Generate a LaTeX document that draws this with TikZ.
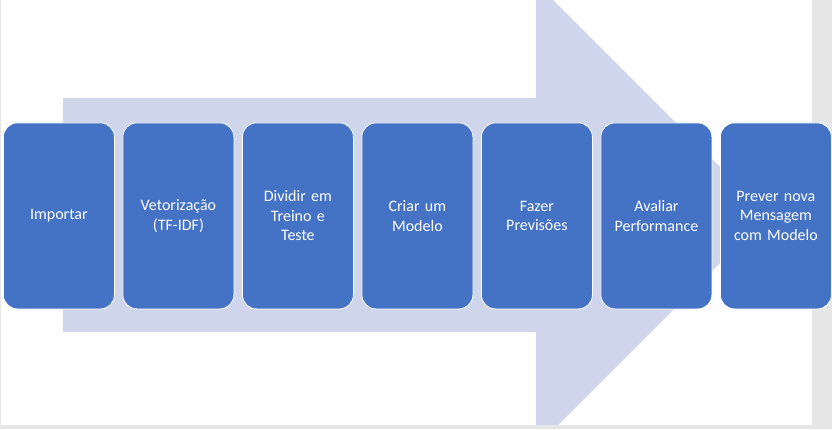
\documentclass[tikz,border=0pt]{standalone}
\usepackage{fontspec}
\setmainfont{Carlito}
\definecolor{bggray}{HTML}{E6E6E6}
\definecolor{arrowc}{HTML}{CFD5EA}
\definecolor{boxc}{HTML}{4472C4}
\begin{document}
\begin{tikzpicture}[x=1pt,y=-1pt,
  stepbox/.style={rectangle, rounded corners=14pt, fill=boxc, draw=white, line width=0.8pt,
    minimum width=111pt, minimum height=186pt, inner sep=0pt, align=center, text width=105pt,
    text=white, font=\fontsize{16}{19.5}\selectfont, anchor=north west}]
\useasboundingbox (0,0) rectangle (832,429);
\fill[bggray] (0,0) rectangle (832,429);
\fill[white] (1,0) rectangle (812,424.5);
\begin{scope}
\clip (1,0) rectangle (812,424.5);
\fill[arrowc] (63,98) -- (536,98) -- (536,-17) -- (768,215) -- (536,447) -- (536,332) -- (63,332) -- cycle;
\end{scope}
\node[stepbox] (s1) at (3,122.5) {Importar};
\node[stepbox] (s2) at (122.5,122.5) {Vetorização\\(TF-IDF)};
\node[stepbox] (s3) at (242,122.5) {Dividir em\\Treino e\\Teste};
\node[stepbox] (s4) at (361.5,122.5) {Criar um\\Modelo};
\node[stepbox] (s5) at (481,122.5) {Fazer\\Previsões};
\node[stepbox] (s6) at (600.5,122.5) {Avaliar\\Performance};
\node[stepbox] (s7) at (720,122.5) {Prever nova\\Mensagem\\com Modelo};
\end{tikzpicture}
\end{document}
